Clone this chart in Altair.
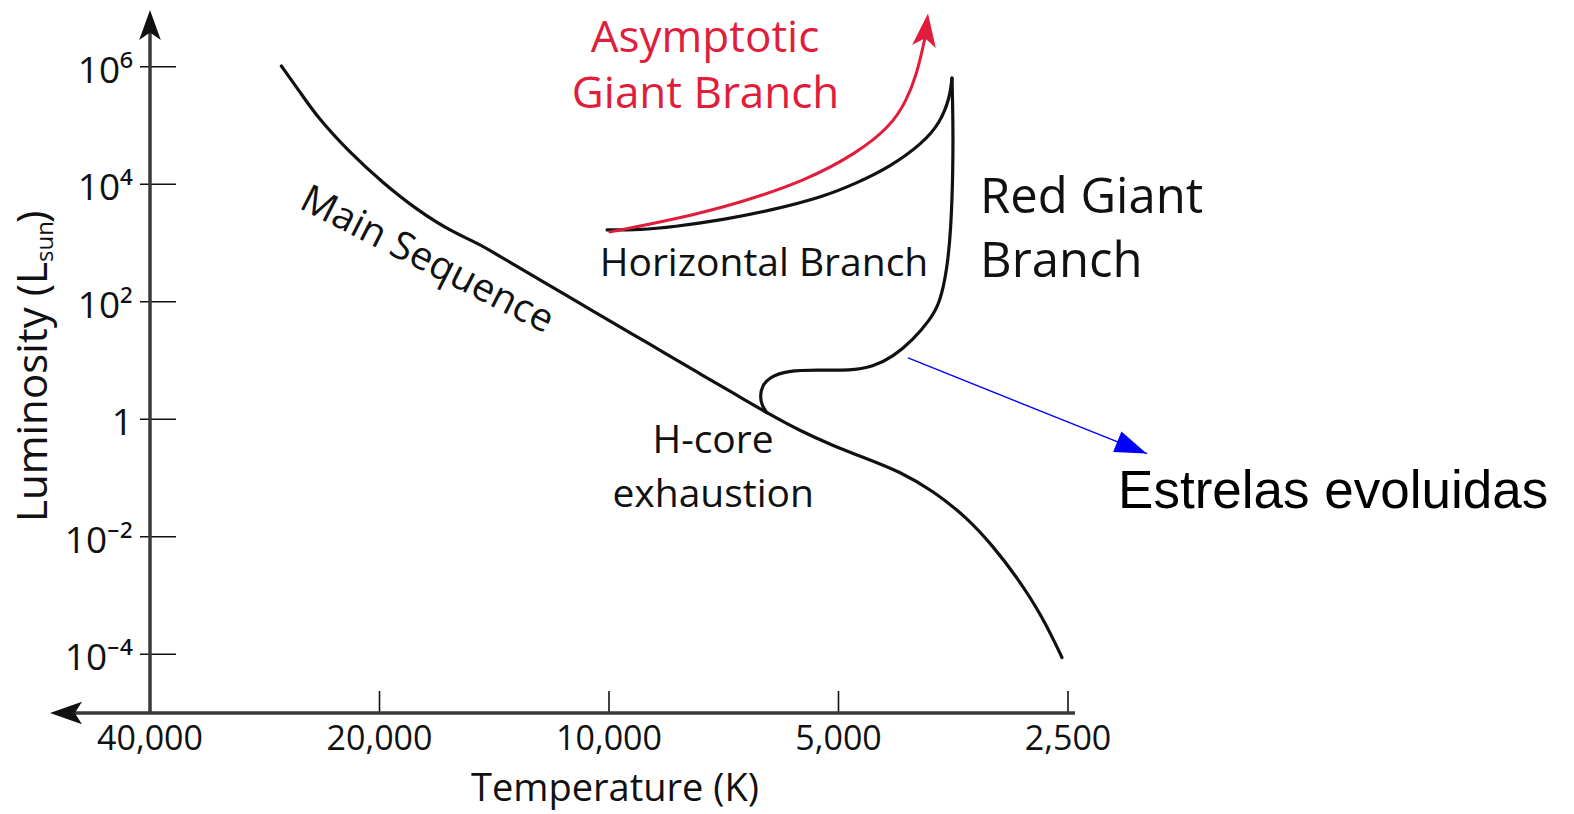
import altair as alt
import pandas as pd

# ---------------- data ----------------
# Main sequence: temperature (K) and luminosity (L_sun)
ms_T = [26900, 25420, 24150, 21860, 19790, 17860, 16160, 14880, 13900, 12580,
        11350, 10280, 9300, 8390, 7600, 6880, 6210, 5620, 5080, 4590,
        4150, 3760, 3390, 3140, 2920, 2700, 2546]
ms_L = [1.03e6, 3.7e5, 1.40e5, 3.41e4, 1.05e4, 3660, 1607, 1004, 592, 276,
        126, 59.2, 27.7, 12.7, 5.94, 2.82, 1.29, 0.637, 0.354, 0.213,
        0.128, 0.0608, 0.0211, 0.00706, 0.0021, 4.38e-4, 8.8e-5]

# H-core exhaustion hook and red giant branch
rgb_T = [6206, 6300, 6338, 6300, 6150, 5841, 5336, 4829, 4505, 4241, 3993,
         3793, 3680, 3603, 3560, 3538, 3538, 3549]
rgb_L = [1.29, 1.7, 2.41, 3.71, 5.28, 6.68, 6.95, 6.68, 7.81, 11.6, 22.5,
         49.2, 95.8, 349, 1670, 1.75e4, 1.24e5, 6.42e5]

# Horizontal branch (from the RGB tip back to the left)
hb_T = [3549, 3570, 3680, 3874, 4280, 4728, 5239, 6094, 7087, 8242, 9105, 10060]
hb_L = [6.42e5, 3.05e5, 1.10e5, 5.04e4, 1.97e4, 1.05e4, 6080, 3656, 2472, 1879, 1670, 1670]

# Asymptotic giant branch (red)
agb_T = [9970, 8242, 6732, 5500, 4728, 4280, 4066, 3945, 3874, 3844]
agb_L = [1545, 2472, 4808, 1.18e4, 3.41e4, 9.43e4, 2.71e5, 7.81e5, 2.16e6, 3.46e6]
agb_head_T = [3839]
agb_head_L = [4.21e6]

# Blue pointer to "Estrelas evoluidas"
pointer_T = [4053, 1969]
pointer_L = [11.1, 0.259]
pointer_head_T = [2061]
pointer_head_L = [0.328]

# Axis ticks
x_tick_values = [40000, 20000, 10000, 5000, 2500]
x_tick_labels = ["40,000", "20,000", "10,000", "5,000", "2,500"]
y_tick_values = [1e6, 1e4, 1e2, 1, 1e-2, 1e-4]
y_tick_labels = ["10⁶", "10⁴", "10²", "1", "10⁻²", "10⁻⁴"]

# Annotations
agb_text = ["Asymptotic", "Giant Branch"]
agb_text_T = [7483, 7470]
agb_text_L = [1.78e6, 1.99e5]

black_center_text = ["Horizontal Branch", "H-core", "exhaustion"]
black_center_T = [6262, 7304, 7300]
black_center_L = [276, 0.269, 0.0325]

rgb_text = ["Red Giant", "Branch"]
rgb_text_T = [3261, 3261]
rgb_text_L = [3250, 265]

ms_text = ["Main Sequence"]
ms_text_T = [17325]
ms_text_L = [516]

evol_text = ["Estrelas evoluidas"]
evol_text_T = [2149]
evol_text_L = [0.0313]

# ---------------- build ----------------
RED = "#E01E3C"
BLACK = "#111111"
AXIS = "#3a3a3a"
FONT = "Open Sans"

xs = alt.Scale(type="log", domain=[2500, 40000], reverse=True, nice=False, zero=False)
ys = alt.Scale(type="log", domain=[1e-5, 1e7], nice=False, zero=False)


def series_df(T, L):
    return pd.DataFrame({"T": T, "L": L, "idx": list(range(len(T)))})


def X():
    return alt.X("T:Q", scale=xs, axis=None)


def Y():
    return alt.Y("L:Q", scale=ys, axis=None)


black_df = pd.concat([
    series_df(ms_T, ms_L).assign(series="ms"),
    series_df(rgb_T, rgb_L).assign(series="rgb"),
    series_df(hb_T, hb_L).assign(series="hb"),
], ignore_index=True)

one = pd.DataFrame({"k": [0]})

black_lines = alt.Chart(black_df).mark_line(
    strokeWidth=3.2, color=BLACK, interpolate="basis", strokeCap="round"
).encode(x=X(), y=Y(), detail="series:N", order="idx:Q")

agb_line = alt.Chart(series_df(agb_T, agb_L)).mark_line(
    strokeWidth=3, color=RED, interpolate="basis", strokeCap="round"
).encode(x=X(), y=Y(), order="idx:Q")

up_arrow = "M0,-1 L0.72,1 L0,0.5 L-0.72,1 Z"
left_arrow = "M-1,0 L1,-0.7 L0.55,0 L1,0.7 Z"
right_tri = "M1,0 L-1,-0.7 L-1,0.7 Z"

agb_head = alt.Chart(pd.DataFrame({"T": agb_head_T, "L": agb_head_L})).mark_point(
    shape=up_arrow, filled=True, size=1100, color=RED, opacity=1, angle=7
).encode(x=X(), y=Y())

pointer_line = alt.Chart(series_df(pointer_T, pointer_L)).mark_line(
    strokeWidth=1.4, color="#0000ff"
).encode(x=X(), y=Y(), order="idx:Q")

pointer_head = alt.Chart(pd.DataFrame({"T": pointer_head_T, "L": pointer_head_L})).mark_point(
    shape=right_tri, filled=True, size=1000, color="#0000ff", opacity=1, angle=22
).encode(x=X(), y=Y())

# axis lines, arrows, ticks
x_line = alt.Chart(one).mark_rule(color=AXIS, strokeWidth=3.5).encode(
    x=alt.value(-90), x2=alt.value(925), y=alt.value(705))
y_line = alt.Chart(one).mark_rule(color=AXIS, strokeWidth=3.5).encode(
    x=alt.value(0), y=alt.value(20), y2=alt.value(705))
y_arrow = alt.Chart(one).mark_point(shape=up_arrow, filled=True, size=900, color=BLACK,
                                    opacity=1).encode(x=alt.value(0), y=alt.value(17))
x_arrow = alt.Chart(one).mark_point(shape=left_arrow, filled=True, size=1024, color=BLACK,
                                    opacity=1).encode(x=alt.value(-84), y=alt.value(705))

y_tick_df = pd.DataFrame({"L": y_tick_values, "label": y_tick_labels})
x_tick_df = pd.DataFrame({"T": x_tick_values, "label": x_tick_labels})

y_ticks = alt.Chart(y_tick_df).mark_rule(color=BLACK, strokeWidth=1.6).encode(
    y=Y(), x=alt.value(-10), x2=alt.value(26))
x_ticks = alt.Chart(x_tick_df.iloc[1:]).mark_rule(color=BLACK, strokeWidth=1.6).encode(
    x=X(), y=alt.value(683), y2=alt.value(705))

y_labels = alt.Chart(y_tick_df).mark_text(
    font=FONT, fontSize=37, color=BLACK, align="right", baseline="alphabetic", dy=16
).encode(y=Y(), x=alt.value(-17), text="label:N")
x_labels = alt.Chart(x_tick_df).mark_text(
    font=FONT, fontSize=34, color=BLACK, align="center", baseline="alphabetic"
).encode(x=X(), y=alt.value(742), text="label:N")


def text_layer(texts, T, L, **kw):
    df = pd.DataFrame({"text": texts, "T": T, "L": L})
    return alt.Chart(df).mark_text(**kw).encode(x=X(), y=Y(), text="text:N")


t_agb = text_layer(agb_text, agb_text_T, agb_text_L, font=FONT, fontSize=44,
                   color=RED, align="center", baseline="alphabetic")
t_black = text_layer(black_center_text, black_center_T, black_center_L, font=FONT,
                     fontSize=39, color=BLACK, align="center", baseline="alphabetic")
t_rgb = text_layer(rgb_text, rgb_text_T, rgb_text_L, font=FONT, fontSize=49,
                   color=BLACK, align="left", baseline="alphabetic")
t_ms = text_layer(ms_text, ms_text_T, ms_text_L, font=FONT, fontSize=39,
                  color=BLACK, align="center", baseline="middle", angle=27)
t_evol = text_layer(evol_text, evol_text_T, evol_text_L, font="Liberation Sans",
                    fontSize=53, color="#000000", align="left", baseline="alphabetic")

# axis titles
x_title = alt.Chart(one).mark_text(text="Temperature (K)", font=FONT, fontSize=38,
                                   color=BLACK, align="center", baseline="alphabetic"
                                   ).encode(x=alt.value(465), y=alt.value(793))
y_title1 = alt.Chart(one).mark_text(text="Luminosity (L", font=FONT, fontSize=42,
                                    color=BLACK, align="right", baseline="alphabetic",
                                    angle=270).encode(x=alt.value(-103), y=alt.value(254))
y_title2 = alt.Chart(one).mark_text(text="sun", font=FONT, fontSize=24,
                                    color=BLACK, align="left", baseline="alphabetic",
                                    angle=270).encode(x=alt.value(-97), y=alt.value(254))
y_title3 = alt.Chart(one).mark_text(text=")", font=FONT, fontSize=42,
                                    color=BLACK, align="left", baseline="alphabetic",
                                    angle=270).encode(x=alt.value(-103), y=alt.value(215))

chart = alt.layer(
    black_lines, agb_line, agb_head, pointer_line, pointer_head,
    y_ticks, x_ticks, x_line, y_line, y_arrow, x_arrow, y_labels, x_labels,
    t_agb, t_black, t_rgb, t_ms, t_evol,
    x_title, y_title1, y_title2, y_title3,
).properties(
    width=918, height=705,
    autosize=alt.AutoSizeParams(type="none"),
    padding={"left": 150, "top": 8, "right": 506, "bottom": 101},
    background="white",
).configure_view(strokeWidth=0)

chart.save("out.html", embed_options={"renderer": "svg", "actions": False})
